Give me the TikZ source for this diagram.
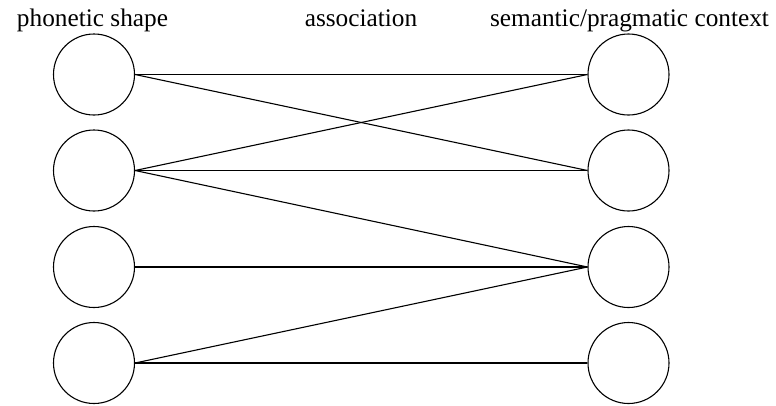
\documentclass[tikz,border=0pt]{standalone}
\usepackage{fontspec}
\setmainfont{Liberation Serif}
\begin{document}
\begin{tikzpicture}[x=1pt,y=-1pt,
  unit/.style={circle,draw,line width=1.1pt,minimum size=81pt,inner sep=0pt},
  lbl/.style={anchor=base,inner sep=0pt,font=\fontsize{25.3}{28}\selectfont},
  link/.style={line width=1.1pt}]
\useasboundingbox (0,0) rectangle (776,405);
\node[lbl] (t1) at (92.5,26) {phonetic shape};
\node[lbl] (t2) at (361,26) {association};
\node[lbl] (t3) at (629.5,26) {semantic/pragmatic context};
\foreach \i/\y in {1/74.5,2/170.5,3/267,4/363}{
  \node[unit] (L\i) at (94,\y) {};
  \node[unit] (R\i) at (628.5,\y) {};
}
\foreach \a/\b in {1/1,1/2,2/1,2/2,2/3,3/3,4/3,4/4}{
  \draw[link] (L\a.east) -- (R\b.west);
}
\end{tikzpicture}
\end{document}
